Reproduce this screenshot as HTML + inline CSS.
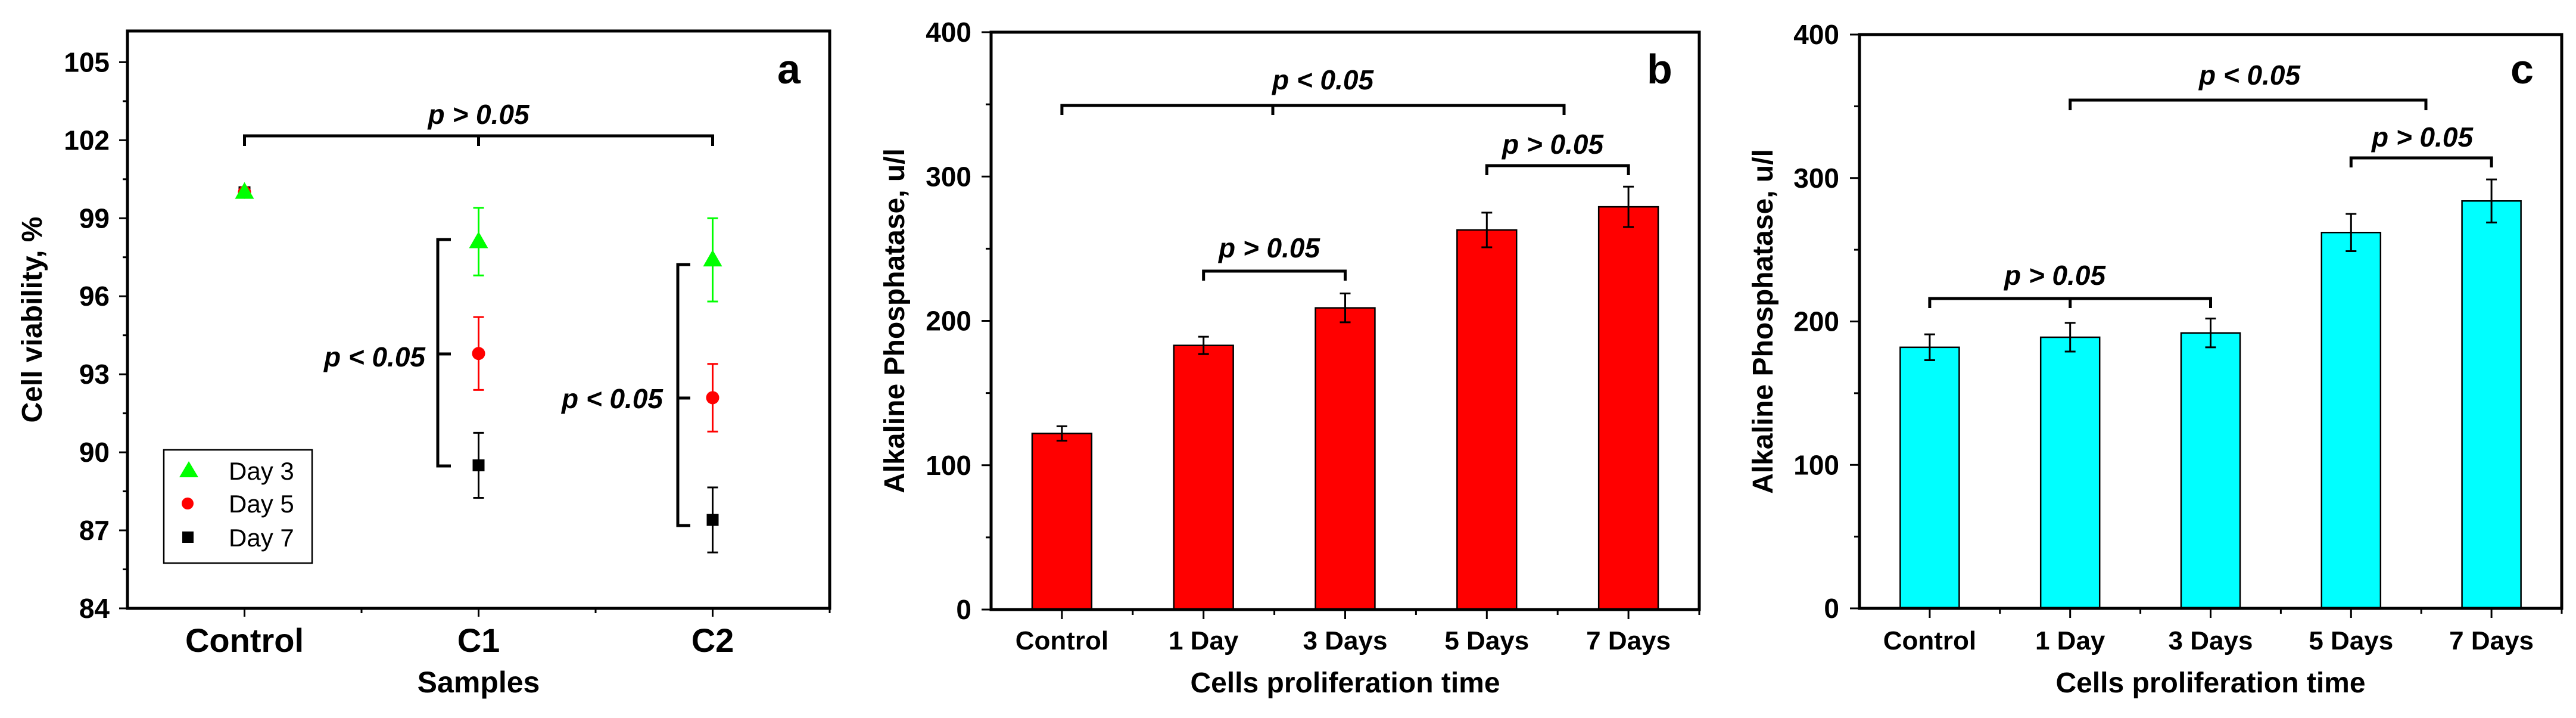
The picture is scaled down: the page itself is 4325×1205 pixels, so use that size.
<!DOCTYPE html>
<html><head><meta charset="utf-8"><style>
html,body{margin:0;padding:0;background:#fff;}
svg{display:block;}
text{font-family:"Liberation Sans",Arial,sans-serif;}
</style></head><body>
<svg id="fig" width="4325" height="1205" viewBox="0 0 4325 1205" xmlns="http://www.w3.org/2000/svg"></svg>
<script>
// ---- Panel a data ----
const aCategories = ["Control","C1","C2"];
const aSeriesNames = ["Day 3","Day 5","Day 7"];
const aDay3 = [100, 98.1, 97.4];
const aDay3Err = [0, 1.3, 1.6];
const aDay5 = [100, 93.8, 92.1];
const aDay5Err = [0, 1.4, 1.3];
const aDay7 = [100, 89.5, 87.4];
const aDay7Err = [0, 1.25, 1.25];
const aYTicks = [84, 87, 90, 93, 96, 99, 102, 105];
// ---- Panel b data ----
const bCategories = ["Control","1 Day","3 Days","5 Days","7 Days"];
const bValues = [122, 183, 209, 263, 279];
const bErrors = [5, 6, 10, 12, 14];
// ---- Panel c data ----
const cCategories = ["Control","1 Day","3 Days","5 Days","7 Days"];
const cValues = [182, 189, 192, 262, 284];
const cErrors = [9, 10, 10, 13, 15];
const alpYTicks = [0, 100, 200, 300, 400];

const NS = "http://www.w3.org/2000/svg";
const svg = document.getElementById("fig");
function mk(tag, attrs, parent, txt){
  const e = document.createElementNS(NS, tag);
  for (const k in attrs) e.setAttribute(k, attrs[k]);
  if (txt !== undefined) e.textContent = txt;
  (parent || svg).appendChild(e);
  return e;
}
function line(x1,y1,x2,y2,w,c,p){ return mk("line",{x1,y1,x2,y2,stroke:c||"#000","stroke-width":w},p); }

function frame(g, L, R, T, B){
  const r = mk("rect",{x:L,y:T,width:R-L,height:B-T,fill:"none",stroke:"#000","stroke-width":5},g);
  
  
}
function pbracket(g, x1, x2, y, drop, mids, label, tx, ty, name){
  const bg = mk("g",{},g);
  
  
  mk("path",{d:`M${x1},${y+drop} V${y} H${x2} V${y+drop}`,fill:"none",stroke:"#000","stroke-width":5},bg);
  mids.forEach(m=>line(m,y,m,y+drop,5,"#000",bg));
  mk("text",{x:tx,y:ty,"text-anchor":"middle","font-size":46,"font-weight":"bold","font-style":"italic"},bg,label);
}

// ================= Panel a =================
(function(){
  const g = mk("g",{});
  
  
  const L=214,R=1393,T=52,B=1021;
  const ymin=84,ymax=106.2;
  const y = v => B - (v-ymin)/(ymax-ymin)*(B-T);
  const step=(R-L)/aCategories.length;
  const x = i => L + step*(i+0.5);
  frame(g,L,R,T,B);
  aYTicks.forEach(t=>{
    line(L-14,y(t),L,y(t),3,"#000",g);
    const tl = mk("text",{x:L-30,y:y(t)+16,"text-anchor":"end","font-size":46,"font-weight":"bold"},g,String(t));
    
    
    if (t+1.5<ymax) line(L-8,y(t+1.5),L,y(t+1.5),3,"#000",g);
  });
  aCategories.forEach((c,i)=>{
    line(x(i),B,x(i),B+14,3,"#000",g);
    line(L+step*(i+1),B,L+step*(i+1),B+8,3,"#000",g);
    const tl = mk("text",{x:x(i),y:1094,"text-anchor":"middle","font-size":56,"font-weight":"bold"},g,c);
    
    
  });
  const xt = mk("text",{x:(L+R)/2,y:1162,"text-anchor":"middle","font-size":50,"font-weight":"bold"},g,"Samples");
  
  
  const yt = mk("text",{x:0,y:0,"text-anchor":"middle","font-size":48,"font-weight":"bold",transform:`translate(70,${(T+B)/2}) rotate(-90)`},g,"Cell viability, %");
  
  
  const pl = mk("text",{x:1305,y:140,"font-size":70,"font-weight":"bold","font-family":"Liberation Serif, serif"},g,"a");
  
  

  function errbar(px,v,e,col){
    if(e<=0) return;
    line(px,y(v+e),px,y(v-e),3,col,g);
    line(px-9,y(v+e),px+9,y(v+e),3,col,g);
    line(px-9,y(v-e),px+9,y(v-e),3,col,g);
  }
  function tri(px,py,col,nm){ const m=mk("polygon",{points:`${px},${py-17} ${px-16},${py+11} ${px+16},${py+11}`,fill:col},g);   }
  function circ(px,py,col,nm){ const m=mk("circle",{cx:px,cy:py,r:11,fill:col},g);   }
  function sq(px,py,col,nm){ const m=mk("rect",{x:px-10,y:py-10,width:20,height:20,fill:col},g);   }
  aCategories.forEach((c,i)=>{
    errbar(x(i),aDay7[i],aDay7Err[i],"#000"); sq(x(i),y(aDay7[i]),"#000","point-day7");
    errbar(x(i),aDay5[i],aDay5Err[i],"#f00"); circ(x(i),y(aDay5[i]),"#f00","point-day5");
    errbar(x(i),aDay3[i],aDay3Err[i],"#0f0"); tri(x(i),y(aDay3[i]),"#0f0","point-day3");
  });
  pbracket(g,x(0),x(2),228,17,[x(1)],"p > 0.05",x(1),208,"p-bracket-top");
  const b1 = mk("g",{},g);
  
  
  mk("path",{d:`M757,402 H735 V782 H757`,fill:"none",stroke:"#000","stroke-width":5},b1);
  line(735,594,757,594,5,"#000",b1);
  mk("text",{x:714,y:615,"text-anchor":"end","font-size":46,"font-weight":"bold","font-style":"italic"},b1,"p < 0.05");
  const b2 = mk("g",{},g);
  
  
  mk("path",{d:`M1159,444 H1138 V882 H1159`,fill:"none",stroke:"#000","stroke-width":5},b2);
  line(1138,668,1159,668,5,"#000",b2);
  mk("text",{x:1113,y:685,"text-anchor":"end","font-size":46,"font-weight":"bold","font-style":"italic"},b2,"p < 0.05");
  const lg = mk("g",{},g);
  
  
  mk("rect",{x:275,y:755,width:249,height:190,fill:"#fff",stroke:"#000","stroke-width":2.5},lg);
  const ly=[790,845,902];
  aSeriesNames.forEach((n,i)=>{
    const e = mk("g",{},lg);
    
    
    if(i===0) mk("polygon",{points:`317,${ly[i]-16} 301,${ly[i]+11} 333,${ly[i]+11}`,fill:"#0f0"},e);
    if(i===1) mk("circle",{cx:315,cy:ly[i],r:10,fill:"#f00"},e);
    if(i===2) mk("rect",{x:306,y:ly[i]-10,width:19,height:19,fill:"#000"},e);
    mk("text",{x:384,y:ly[i]+15,"font-size":42},e,n);
  });
})();

// ================= Bar panels =================
function barPanel(opts){
  const g = mk("g",{});
  
  
  const {L,R,T,B,cats,vals,errs,color} = opts;
  const y = v => B - v/400*(B-T);
  const step=(R-L)/cats.length;
  const x = i => L + step*(i+0.5);
  const bw = step*0.42;
  alpYTicks.forEach(t=>{
    line(L-16,y(t),L,y(t),3,"#000",g);
    if(t<400) line(L-9,y(t+50),L,y(t+50),3,"#000",g);
    const tl = mk("text",{x:opts.tickRight,y:y(t)+16,"text-anchor":"end","font-size":46,"font-weight":"bold"},g,String(t));
    
    
  });
  cats.forEach((c,i)=>{
    const b = mk("rect",{x:x(i)-bw/2,y:y(vals[i]),width:bw,height:B-y(vals[i]),fill:color,stroke:"#000","stroke-width":2.5},g);
    
    
    const eb = mk("g",{},g);
    
    
    line(x(i),y(vals[i]+errs[i]),x(i),y(vals[i]-errs[i]),3,"#000",eb);
    line(x(i)-9,y(vals[i]+errs[i]),x(i)+9,y(vals[i]+errs[i]),3,"#000",eb);
    line(x(i)-9,y(vals[i]-errs[i]),x(i)+9,y(vals[i]-errs[i]),3,"#000",eb);
    line(x(i),B,x(i),B+16,3,"#000",g);
    line(L+step*(i+1),B,L+step*(i+1),B+9,3,"#000",g);
    const tl = mk("text",{x:x(i),y:1090,"text-anchor":"middle","font-size":44,"font-weight":"bold"},g,c);
    
    
  });
  frame(g,L,R,T,B);
  const xt = mk("text",{x:(L+R)/2,y:1162,"text-anchor":"middle","font-size":48,"font-weight":"bold"},g,"Cells proliferation time");
  
  
  const yt = mk("text",{x:0,y:0,"text-anchor":"middle","font-size":48,"font-weight":"bold",transform:`translate(${opts.titleX},${(T+B)/2}) rotate(-90)`},g,"Alkaline Phosphatase, u/l");
  
  
  const pl = mk("text",{x:opts.labelX,y:140,"font-size":70,"font-weight":"bold","font-family":"Liberation Serif, serif"},g,opts.label);
  
  
  opts.brackets(g,x);
}

barPanel({name:"panel-b-alp-red",L:1664,R:2853,T:54,B:1023,cats:bCategories,vals:bValues,errs:bErrors,color:"#ff0000",
  tickRight:1631,titleX:1518,labelX:2765,label:"b",
  brackets:(g,x)=>{
    pbracket(g,x(0),2626,177,16,[2137],"p < 0.05",2221,150,"p-bracket-overall");
    pbracket(g,x(3),x(4),278,16,[],"p > 0.05",2607,258,"p-bracket-5-7");
    pbracket(g,x(1),x(2),455,16,[],"p > 0.05",2131,432,"p-bracket-1-3");
  }});
barPanel({name:"panel-c-alp-cyan",L:3122,R:4301,T:58,B:1021,cats:cCategories,vals:cValues,errs:cErrors,color:"#00ffff",
  tickRight:3088,titleX:2976,labelX:4215,label:"c",
  brackets:(g,x)=>{
    pbracket(g,x(1),4073,168,17,[],"p < 0.05",3777,142,"p-bracket-overall");
    pbracket(g,x(3),x(4),265,16,[],"p > 0.05",4067,246,"p-bracket-5-7");
    pbracket(g,x(0),x(2),501,16,[x(1)],"p > 0.05",3450,478,"p-bracket-control-3");
  }});
</script>
</body></html>
